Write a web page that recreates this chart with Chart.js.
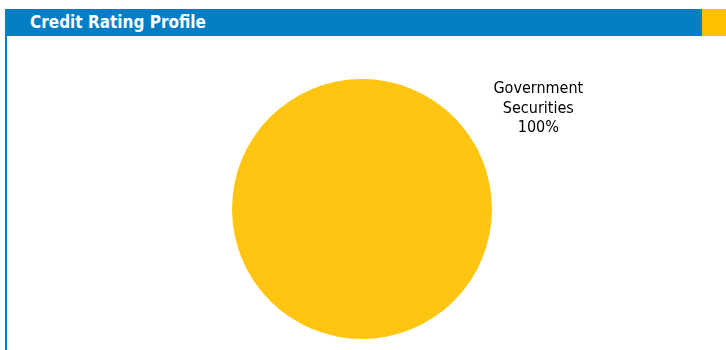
<!DOCTYPE html>
<html>
<head>
<meta charset="utf-8">
<script src="https://cdn.jsdelivr.net/npm/chart.js@4.4.0/dist/chart.umd.min.js"></script>
<style>
    body { margin: 0; background: #fff; width: 726px; height: 350px; overflow: hidden; position: relative; }
    #header { position: absolute; left: 5px; top: 9px; width: 697px; height: 27px; background: #037dc4; z-index: 2; }
    #header span { position: absolute; left: 25px; top: 3px; color: #fff; font: bold 17px "DejaVu Sans Condensed", "DejaVu Sans", sans-serif; }
    #accent { position: absolute; left: 702px; top: 9px; width: 24px; height: 27px; background: #ffc000; z-index: 2; }
    #leftline { position: absolute; left: 5px; top: 36px; width: 2px; height: 314px; background: #037dc4; z-index: 2; }
    #chart { position: absolute; left: 0; top: 0; }
</style>
</head>
<body>
<div id="header"><span>Credit Rating Profile</span></div>
<div id="accent"></div>
<div id="leftline"></div>
<canvas id="chart" width="726" height="350"></canvas>
<script>
var categories = ["Government Securities"];
var shares = [100];
var sliceColors = ["#ffc510"];

// label sits outside the slice, up and to the right
var outsideLabel = {
    id: 'outsideLabel',
    afterDraw: function(chart) {
        var ctx = chart.ctx;
        var arc = chart.getDatasetMeta(0).data[0];
        var ang = -29.6 * Math.PI / 180;
        var r = arc.outerRadius * 1.56;
        var x = arc.x + Math.cos(ang) * r;
        var y = arc.y + Math.sin(ang) * r;
        var words = categories[0].split(" ");
        words.push(shares[0] + "%");
        ctx.save();
        ctx.fillStyle = "#000";
        ctx.font = '16px "DejaVu Sans Condensed", "DejaVu Sans", sans-serif';
        ctx.textAlign = "center";
        ctx.textBaseline = "middle";
        for (var i = 0; i < words.length; i++) {
            ctx.fillText(words[i], x, y + (i - 1) * 19.5);
        }
        ctx.restore();
    }
};

new Chart(document.getElementById("chart"), {
    type: 'pie',
    data: {
        labels: categories,
        datasets: [{
            data: shares,
            backgroundColor: sliceColors,
            borderWidth: 0
        }]
    },
    options: {
        responsive: false,
        animation: false,
        layout: { padding: { top: 79, bottom: 11, left: 0, right: 2 } },
        plugins: {
            legend: { display: false },
            tooltip: { enabled: false }
        }
    },
    plugins: [outsideLabel]
});
</script>
</body>
</html>
